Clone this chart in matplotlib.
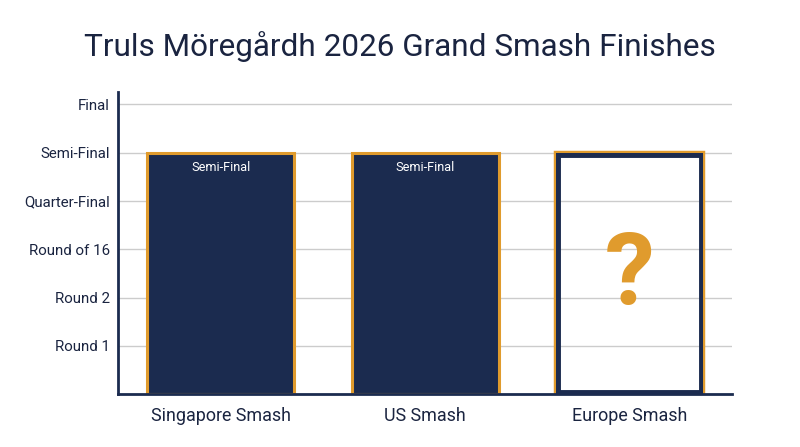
import matplotlib
matplotlib.use('Agg')
import matplotlib.pyplot as plt
import numpy as np

# data
events = ['Singapore Smash', 'US Smash', 'Europe Smash']
stage_labels = ['Round 1', 'Round 2', 'Round of 16', 'Quarter-Final', 'Semi-Final', 'Final']
stage_values = [1, 2, 3, 4, 5, 6]
finish_values = [5, 5, 5]          # Europe Smash is a placeholder (not played yet)
finish_labels = ['Semi-Final', 'Semi-Final', '?']
known = [True, True, False]

NAVY = '#1b2b4f'
ORANGE = '#e09b2d'
TEXT = '#1a2440'

plt.rcParams['font.family'] = ['Roboto', 'DejaVu Sans']

fig, ax = plt.subplots(figsize=(8, 4.47), dpi=100)
fig.subplots_adjust(left=0.148, right=0.915, top=0.794, bottom=0.118)

x = np.arange(len(events))
width = 0.72

for i in range(len(events)):
    if known[i]:
        ax.bar(x[i], finish_values[i], width, color=NAVY, edgecolor=ORANGE,
               linewidth=2.2, zorder=3)
        ax.text(x[i], finish_values[i] - 0.3, finish_labels[i], ha='center',
                va='center', color='white', fontsize=9.2, zorder=4)
    else:
        ax.bar(x[i], finish_values[i], width, facecolor='none', edgecolor=ORANGE,
               linewidth=3.2, zorder=3)
        inner = ax.bar(x[i], finish_values[i], width, facecolor='none',
                       edgecolor=NAVY, linewidth=6.4, zorder=4)
        for p in inner:
            p.set_clip_path(p)
        ax.text(x[i], finish_values[i] / 2 - 0.06, finish_labels[i], ha='center',
                va='center', color=ORANGE, fontsize=72, fontweight='bold', zorder=4)

ax.set_xlim(-0.5, 2.5)
ax.set_ylim(0, 6.25)
ax.set_yticks(stage_values)
ax.set_yticklabels(stage_labels, fontsize=10.8, color=TEXT)
ax.set_xticks(x)
ax.set_xticklabels(events, fontsize=12.9, color=TEXT)
ax.tick_params(axis='y', length=0, pad=6)
ax.tick_params(axis='x', length=0, pad=9)

ax.grid(axis='y', color='#cccccc', linewidth=1, zorder=0)
ax.set_axisbelow(True)
for s in ['top', 'right']:
    ax.spines[s].set_visible(False)
for s in ['left', 'bottom']:
    ax.spines[s].set_color(NAVY)
    ax.spines[s].set_linewidth(2)
    ax.spines[s].set_zorder(5)

fig.suptitle('Truls Möregårdh 2026 Grand Smash Finishes', fontsize=22.7,
             color=TEXT, y=0.93)

fig.savefig('out.png', dpi=100)
